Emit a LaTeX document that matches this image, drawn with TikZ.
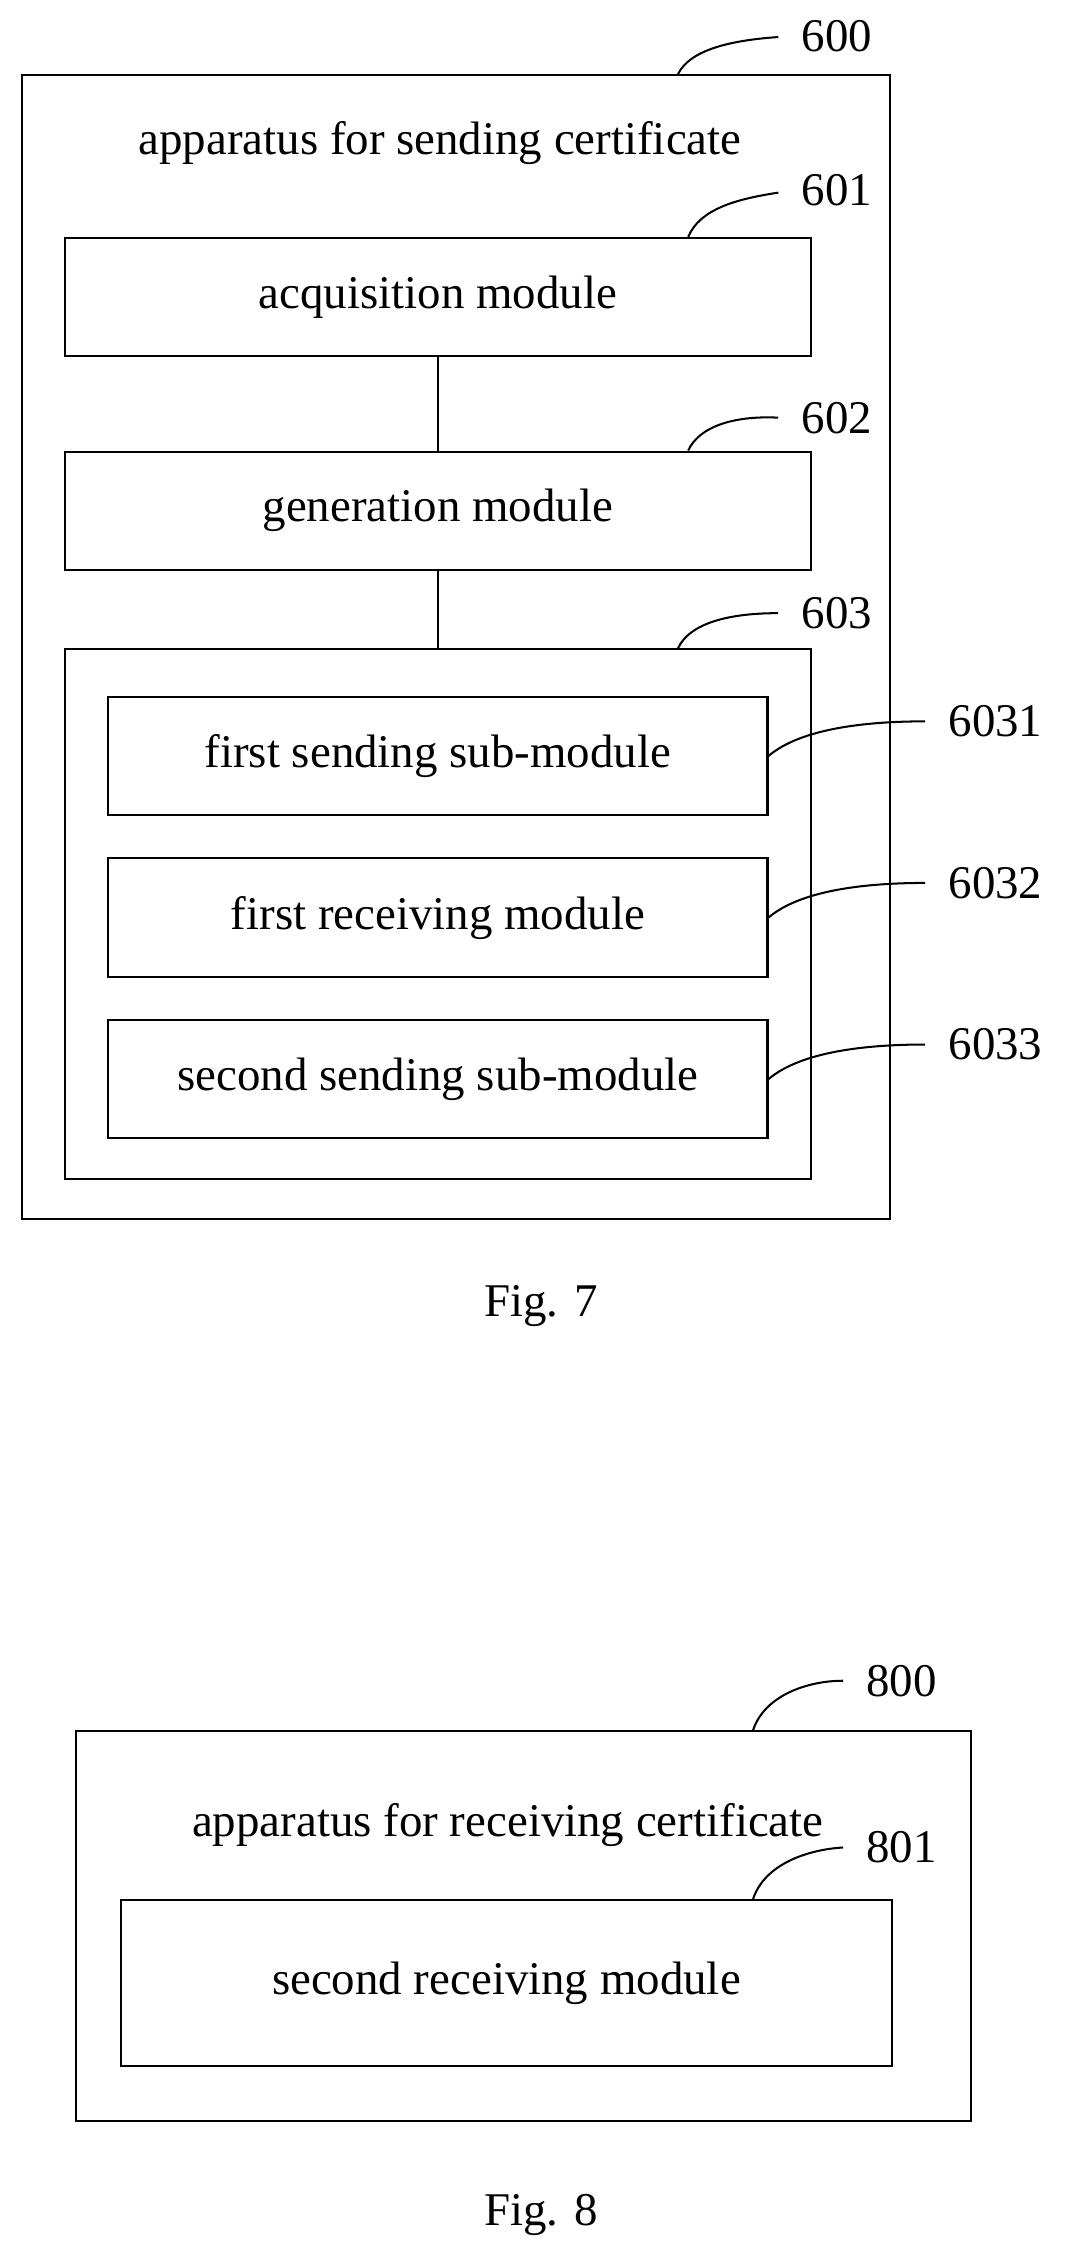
\documentclass[tikz,border=0pt]{standalone}
\usepackage{fontspec}
\setmainfont{Liberation Serif}
\usetikzlibrary{positioning}
\begin{document}
\begin{tikzpicture}[x=0.02cm, y=-0.02cm, font=\fontsize{18.5}{22}\selectfont]
    % Styles
    \tikzset{box/.style={rectangle, draw, thick, inner sep=0pt},
             lead/.style={thick, shorten >=0.2cm}}
    \useasboundingbox (0,0) rectangle (745,1570);

    % Fig. 7
    \node[box, minimum width=602*0.02cm, minimum height=793*0.02cm] (App) at (316,448.5) {};
    \node (AppText) at (305,99) {apparatus for sending certificate};
    \node[box, minimum width=517*0.02cm, minimum height=82*0.02cm] (Acq) at (303.5,206) {acquisition module};
    \node[box, minimum width=517*0.02cm, minimum height=82*0.02cm] (Gen) at (303.5,354) {generation module};
    \node[box, minimum width=517*0.02cm, minimum height=367*0.02cm] (Send) at (303.5,633.5) {};
    \node[box, minimum width=457*0.02cm, minimum height=82*0.02cm] (Sub1) at (303.5,524) {first sending sub-module};
    \node[box, minimum width=457*0.02cm, minimum height=82*0.02cm] (Sub2) at (303.5,636) {first receiving module};
    \node[box, minimum width=457*0.02cm, minimum height=82*0.02cm] (Sub3) at (303.5,748) {second sending sub-module};
    \node (Fig7) at (375,905) {Fig. 7};

    % Reference numerals
    \node (L600) at (580,25) {600};
    \node (L601) at (580,132) {601};
    \node (L602) at (580,290) {602};
    \node (L603) at (580,425) {603};
    \node (L6031) at (690,500) {6031};
    \node (L6032) at (690,612) {6032};
    \node (L6033) at (690,724) {6033};

    % Connections
    \draw[thick] (Acq) -- (Gen);
    \draw[thick] (Gen) -- (Send);

    % Leaders
    \draw[lead] (App.north -| 470,0) .. controls (478,35) and (505,28) .. (L600.west);
    \draw[lead] (Acq.north -| 477,0) .. controls (485,145) and (510,138) .. (L601.west);
    \draw[lead] (Gen.north -| 477,0) .. controls (485,295) and (510,288) .. (L602.west);
    \draw[lead] (Send.north -| 470,0) .. controls (478,432) and (505,425) .. (L603.west);
    \draw[lead] (Sub1.east) .. controls (555,505) and (600,500) .. (L6031.west);
    \draw[lead] (Sub2.east) .. controls (555,617) and (600,612) .. (L6032.west);
    \draw[lead] (Sub3.east) .. controls (555,729) and (600,724) .. (L6033.west);

    % Fig. 8
    \node[box, minimum width=620*0.02cm, minimum height=270*0.02cm] (Recv) at (363,1335) {};
    \node (RecvText) at (352,1265) {apparatus for receiving certificate};
    \node[box, minimum width=534*0.02cm, minimum height=115*0.02cm] (Sub4) at (351,1374.5) {second receiving module};
    \node (Fig8) at (375,1535) {Fig. 8};
    \node (L800) at (625,1165) {800};
    \node (L801) at (625,1280) {801};
    \draw[lead] (Recv.north -| 522,0) .. controls (530,1175) and (560,1165) .. (L800.west);
    \draw[lead] (Sub4.north -| 522,0) .. controls (530,1292) and (560,1282) .. (L801.west);
\end{tikzpicture}
\end{document}
